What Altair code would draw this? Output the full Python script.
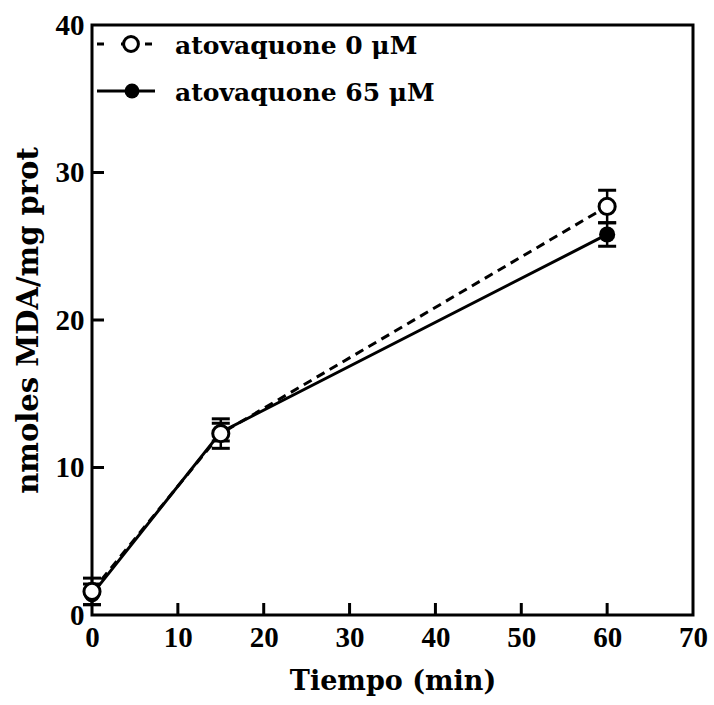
import altair as alt
import pandas as pd

# data
times = [0, 15, 60]
series_names = ["atovaquone 0 μM", "atovaquone 65 μM"]
mean_0 = [1.6, 12.3, 27.7]
err_0 = [0.9, 1.0, 1.1]
mean_65 = [1.4, 12.4, 25.8]
err_65 = [0.7, 0.6, 0.8]
x_ticks = [0, 10, 20, 30, 40, 50, 60, 70]
y_ticks = [0, 10, 20, 30, 40]
x_title = "Tiempo (min)"
y_title = "nmoles MDA/mg prot"

rows = []
for name, m, e in [(series_names[0], mean_0, err_0), (series_names[1], mean_65, err_65)]:
    for t, mv, ev in zip(times, m, e):
        rows.append({"t": t, "v": mv, "lo": mv - ev, "hi": mv + ev, "s": name})
df = pd.DataFrame(rows)
d0 = df[df.s == series_names[0]]
d65 = df[df.s == series_names[1]]

W, H = 601, 590
FONT = "Liberation Serif"
TFONT = "DejaVu Serif"

xs = alt.Scale(domain=[0, 70], nice=False, zero=False)
ys = alt.Scale(domain=[0, 40], nice=False)

xax = alt.Axis(values=x_ticks, tickSize=0, labelFontSize=29, labelFont=FONT, labelFontWeight="bold",
               labelColor="black", labelPadding=8, title=x_title, titleFont=TFONT, titleFontSize=27,
               titleFontWeight="bold", titleColor="black", titlePadding=16, grid=False, domain=False,
               labelFlush=False)
yax = alt.Axis(values=y_ticks, tickSize=0, labelFontSize=29, labelFont=FONT, labelFontWeight="bold",
               labelColor="black", labelPadding=8, title=y_title, titleFont=TFONT, titleFontSize=29,
               titleFontWeight="bold", titleColor="black", titlePadding=12, grid=False, domain=False,
               labelFlush=False)

base_x = alt.X("t:Q", scale=xs, axis=xax)
base_y = alt.Y("v:Q", scale=ys, axis=yax)

line0 = alt.Chart(d0).mark_line(color="black", strokeWidth=3, strokeDash=[9, 6]).encode(x=base_x, y=base_y)
line65 = alt.Chart(d65).mark_line(color="black", strokeWidth=3).encode(x=alt.X("t:Q", scale=xs), y=alt.Y("v:Q", scale=ys))

def errs(d):
    r = alt.Chart(d).mark_rule(color="black", strokeWidth=2.5).encode(
        x=alt.X("t:Q", scale=xs), y=alt.Y("lo:Q", scale=ys), y2="hi:Q")
    tlo = alt.Chart(d).mark_tick(color="black", orient="horizontal", size=18, thickness=3, opacity=1).encode(
        x=alt.X("t:Q", scale=xs), y=alt.Y("lo:Q", scale=ys))
    thi = alt.Chart(d).mark_tick(color="black", orient="horizontal", size=18, thickness=3, opacity=1).encode(
        x=alt.X("t:Q", scale=xs), y=alt.Y("hi:Q", scale=ys))
    return r + tlo + thi

pts65 = alt.Chart(d65).mark_point(shape="circle", filled=True, color="black", size=260, opacity=1).encode(
    x=alt.X("t:Q", scale=xs), y=alt.Y("v:Q", scale=ys))
pts0 = alt.Chart(d0).mark_point(shape="circle", filled=True, fill="white", stroke="black", strokeWidth=3,
                                size=260, opacity=1).encode(
    x=alt.X("t:Q", scale=xs), y=alt.Y("v:Q", scale=ys))

# inward ticks
xt = pd.DataFrame({"t": x_ticks[1:-1]})
yt = pd.DataFrame({"v": y_ticks[1:-1]})
xtick = alt.Chart(xt).mark_rule(color="black", strokeWidth=3).encode(
    x=alt.X("t:Q", scale=xs), y=alt.value(H), y2=alt.value(H - 12))
ytick = alt.Chart(yt).mark_rule(color="black", strokeWidth=3).encode(
    y=alt.Y("v:Q", scale=ys), x=alt.value(0), x2=alt.value(12))

# legend
leg = pd.DataFrame({"s": series_names, "ly": [19, 66], "ty": [21, 68]})
leg0 = leg.iloc[[0]]
leg65 = leg.iloc[[1]]
legline0 = alt.Chart(leg0).mark_rule(color="black", strokeWidth=3, strokeDash=[7, 17]).encode(
    x=alt.value(5), x2=alt.value(63), y=alt.Y("ly:Q", scale=None))
legline65 = alt.Chart(leg65).mark_rule(color="black", strokeWidth=3).encode(
    x=alt.value(5), x2=alt.value(63), y=alt.Y("ly:Q", scale=None))
legpt0 = alt.Chart(leg0).mark_point(shape="circle", filled=True, fill="white", stroke="black", strokeWidth=3,
                                    size=220, opacity=1).encode(x=alt.value(39), y=alt.Y("ly:Q", scale=None))
legpt65 = alt.Chart(leg65).mark_point(shape="circle", filled=True, color="black", size=220, opacity=1).encode(
    x=alt.value(40), y=alt.Y("ly:Q", scale=None))
legtxt = alt.Chart(leg).mark_text(align="left", baseline="middle", font=TFONT, fontSize=25, fontWeight="bold",
                                  color="black").encode(
    x=alt.value(83), y=alt.Y("ty:Q", scale=None), text="s:N")

chart = alt.layer(
    line0, line65, errs(d0), errs(d65), pts65, pts0, xtick, ytick,
    legline0, legline65, legpt0, legpt65, legtxt
).properties(
    width=W, height=H,
    autosize=alt.AutoSizeParams(type="none"),
    padding={"left": 92, "top": 25, "right": 21, "bottom": 90},
    background="white",
).configure_view(stroke="black", strokeWidth=3)

chart.save("out.html", embed_options={"renderer": "svg", "actions": False})
